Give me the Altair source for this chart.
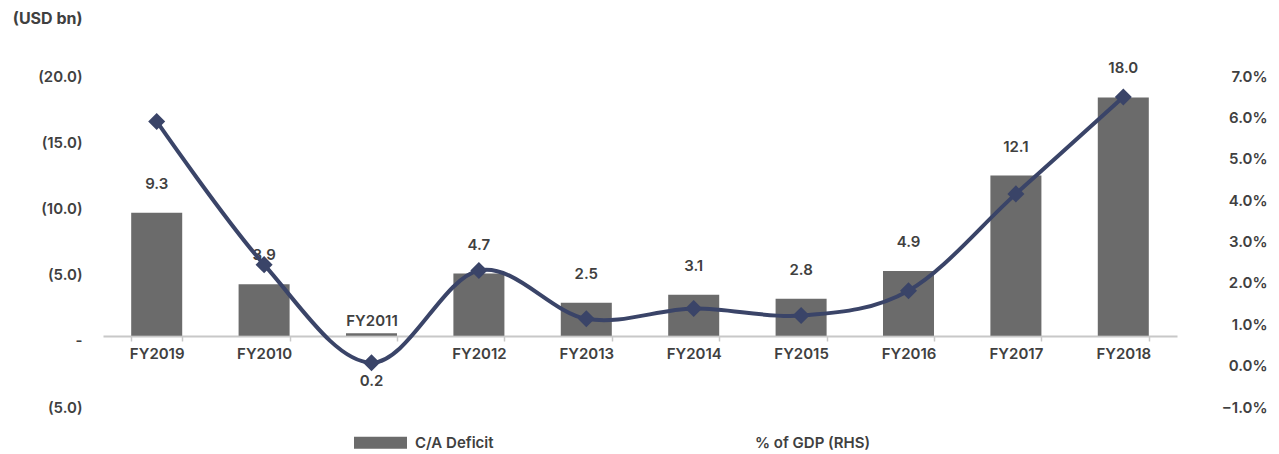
import altair as alt
import pandas as pd

years = ["FY2019", "FY2010", "FY2011", "FY2012", "FY2013", "FY2014",
         "FY2015", "FY2016", "FY2017", "FY2018"]
deficit = [9.3, 3.9, 0.2, 4.7, 2.5, 3.1, 2.8, 4.9, 12.1, 18.0]
gdp_pct = [5.78, 2.32, -0.05, 2.18, 1.01, 1.26, 1.09, 1.69, 4.03, 6.37]
series_names = ["C/A Deficit", "% of GDP (RHS)"]

df = pd.DataFrame({"year": years, "deficit": deficit, "pct": gdp_pct,
                   "series": series_names[0]})

FONT = "Inter"
FS = 15
TXT = "#404040"
BAR = "#6b6b6b"
LINE = "#3a4468"
AX = "#c8c8c8"

x_enc = alt.X(
    "year:N", sort=years,
    scale=alt.Scale(paddingInner=0.525, paddingOuter=0.2625),
    axis=alt.Axis(
        title=None, orient="bottom", offset=-66, labelAngle=0,
        domainColor=AX, domainWidth=2, tickColor=AX, tickWidth=1.5,
        tickSize=5, tickBand="extent",
        labelFont=FONT, labelFontSize=FS, labelFontWeight=600, labelColor=TXT,
        labelPadding={"condition": {"test": "datum.value == 'FY2011'", "value": -28}, "value": 5},
    ),
)

y_left = alt.Y(
    "deficit:Q",
    scale=alt.Scale(domain=[-5, 20], nice=False, zero=False),
    axis=alt.Axis(
        orient="left", values=[-5, 0, 5, 10, 15, 20], grid=False, domain=False,
        ticks=False, tickSize=0, labelPadding=21, labelOffset=5,
        labelExpr="datum.value == 0 ? '-' : '(' + format(abs(datum.value), '.1f') + ')'",
        labelFont=FONT, labelFontSize=FS, labelFontWeight=600, labelColor=TXT,
        title="(USD bn)", titleAngle=0, titleAlign="right", titleBaseline="middle",
        titleX=-21, titleY=-53, titleFont=FONT, titleFontSize=16,
        titleFontWeight=700, titleColor=TXT,
    ),
)

y_right = alt.Y(
    "pct:Q",
    scale=alt.Scale(domain=[-1, 7], nice=False, zero=False),
    axis=alt.Axis(
        orient="right", values=[-1, 0, 1, 2, 3, 4, 5, 6, 7], grid=False,
        domain=False, ticks=False, tickSize=0, labelPadding=90, labelOffset=5,
        labelAlign="right",
        labelExpr="format(datum.value, '.1f') + '%'",
        labelFont=FONT, labelFontSize=FS, labelFontWeight=600, labelColor=TXT,
        title=None,
    ),
)

base = alt.Chart(df)

bars = base.mark_bar().encode(
    x=x_enc, y=y_left,
    color=alt.Color(
        "series:N",
        scale=alt.Scale(domain=series_names, range=[BAR, "rgba(0,0,0,0)"]),
        legend=alt.Legend(
            title=None, orient="none", direction="horizontal",
            legendX=251, legendY=345, columnPadding=200,
            symbolType="M-1,-0.226H1V0.226H-1Z", symbolSize=2809,
            symbolStrokeWidth=0, symbolOpacity=1, labelOffset=8,
            labelFont=FONT, labelFontSize=FS, labelFontWeight=600,
            labelColor=TXT,
        ),
    ),
)

labels = base.transform_filter("datum.year != 'FY2011'").mark_text(
    dy=-29, font=FONT, fontSize=FS, fontWeight=600, color=TXT, baseline="middle"
).encode(x=x_enc, y=y_left, text=alt.Text("deficit:Q", format=".1f"))

label_small = base.transform_filter("datum.year == 'FY2011'").mark_text(
    dy=48, font=FONT, fontSize=FS, fontWeight=600, color=TXT, baseline="middle"
).encode(x=x_enc, y=y_left, text=alt.Text("deficit:Q", format=".1f"))

left = alt.layer(bars, labels, label_small)

line = base.mark_line(color=LINE, strokeWidth=4, interpolate="cardinal").encode(
    x=x_enc, y=y_right
)
points = base.mark_point(shape="diamond", filled=True, size=290, color=LINE,
                         opacity=1).encode(x=x_enc, y=y_right)
right = alt.layer(line, points)

chart = alt.layer(left, right).resolve_scale(y="independent").properties(
    width=1074, height=331,
    autosize=alt.AutoSizeParams(type="none"),
    padding={"left": 95, "top": 63, "right": 94, "bottom": 52},
    background="white",
).configure_view(strokeWidth=0, stroke="transparent")

chart.save("out.html", embed_options={"renderer": "svg", "actions": False})
